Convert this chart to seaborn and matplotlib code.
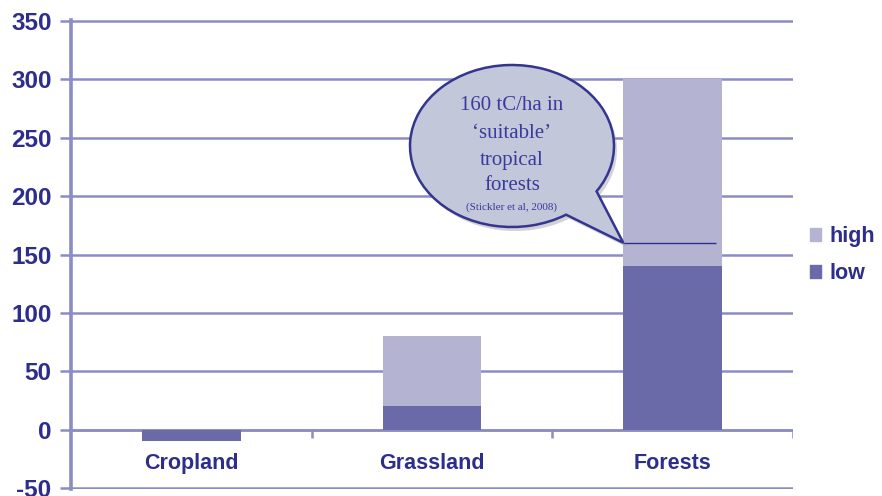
import numpy as np
import pandas as pd
import seaborn as sns
import matplotlib.pyplot as plt
from matplotlib.patches import Patch, PathPatch
from matplotlib.path import Path

# Carbon stock change by land use (tC/ha)
categories = ["Cropland", "Grassland", "Forests"]
low = [-10, 20, 140]
high = [0, 60, 160]          # increment on top of "low"
yticks = [-50, 0, 50, 100, 150, 200, 250, 300, 350]
note_value = 160
note_lines = ["160 tC/ha in", "\u2018suitable\u2019", "tropical", "forests"]
note_source = "(Stickler et al, 2008)"

navy = "#2d2d8c"
grid_c = "#8c8cc4"
low_c = "#6b6aa8"
high_c = "#b4b4d2"

sns.set_theme(style="white")
plt.rcParams["font.family"] = ["Liberation Sans", "DejaVu Sans"]
plt.rcParams["axes.unicode_minus"] = False

df = pd.DataFrame({"category": categories, "low": low, "high": high})
df["total"] = df["low"] + df["high"]

W, H = 882, 496
fig = plt.figure(figsize=(W / 100, H / 100), dpi=100)
ppu = 467 / 400
ax = fig.add_axes([71 / W, (8 - ppu) / H, (793 - 71) / W, (467 + 2 * ppu) / H])

sns.barplot(data=df, x="category", y="total", color=high_c, saturation=1,
            width=0.41, ax=ax, zorder=3, linewidth=0)
sns.barplot(data=df, x="category", y="low", color=low_c, saturation=1,
            width=0.41, ax=ax, zorder=4, linewidth=0)

ax.set_xlim(-0.5, 2.5)
ax.set_ylim(-51, 351)
ax.set_xlabel("")
ax.set_ylabel("")
ax.set_xticks([])
ax.set_yticks(yticks)
ax.yaxis.grid(True, color=grid_c, lw=1.8)
ax.set_axisbelow(True)
for s in ["top", "right", "bottom"]:
    ax.spines[s].set_visible(False)
ax.spines["left"].set_color(grid_c)
ax.spines["left"].set_linewidth(2.6)
ax.tick_params(axis="y", length=8, width=1.8, color=grid_c, direction="out",
               pad=6, labelcolor=navy, labelsize=17.5, left=True)
for lbl in ax.get_yticklabels():
    lbl.set_fontweight("bold")

# category axis along zero with separator ticks
ax.axhline(0, color=grid_c, lw=1.8, zorder=2)
ax.vlines([0.5, 1.5, 2.5], -7, 0, color=grid_c, lw=1.8, zorder=2)
for i, c in enumerate(categories):
    ax.text(i, -29, c, ha="center", va="center", fontsize=15.5,
            fontweight="bold", color=navy)

# reference level inside the forest bar
ax.hlines(note_value, 1.795, 2.18, color=navy, lw=1.0, zorder=6)

# speech bubble
ov = fig.add_axes([0, 0, 1, 1], zorder=5)
ov.set_xlim(0, W)
ov.set_ylim(0, H)
ov.axis("off")
ov.patch.set_alpha(0)

tip = ax.transData.transform((1.795, note_value))
cx, cy, a, b = 512, 350, 102, 81
arc = Path.arc(-34, 302)
verts = arc.vertices * [a, b] + [cx, cy]
verts = np.vstack([verts, tip, verts[0]])
codes = list(arc.codes) + [Path.LINETO, Path.CLOSEPOLY]
bubble = Path(verts, codes)
shadow = Path(verts + [3, -4], codes)
ov.add_patch(PathPatch(shadow, facecolor="#9a9aa8", edgecolor="none", alpha=0.45))
ov.add_patch(PathPatch(bubble, facecolor="#c2c7da", edgecolor="#35358f", lw=1.8))

ys = [391, 362, 336, 310]
for t, y in zip(note_lines, ys):
    ov.text(cx, y, t, ha="center", va="center", fontsize=15,
            family="Liberation Serif", color="#3a3a9c")
ov.text(cx, 289, note_source, ha="center", va="center", fontsize=8,
        family="Liberation Serif", color="#3a3a9c")

handles = [Patch(color=high_c, label="high"), Patch(color=low_c, label="low")]
fig.legend(handles=handles, loc="center left", bbox_to_anchor=(806 / W, 1 - 255 / H),
           frameon=False, prop={"weight": "bold", "size": 15.5}, labelcolor=navy,
           handlelength=0.5, handleheight=0.55, handletextpad=0.4, labelspacing=0.75,
           borderaxespad=0, borderpad=0.2)

fig.savefig("out.png", dpi=100)
